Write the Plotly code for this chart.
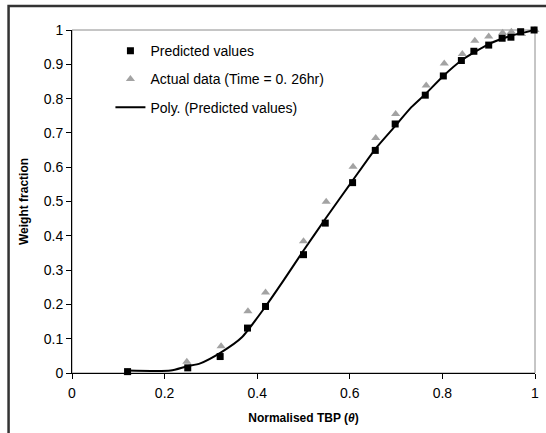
import plotly.graph_objects as go

# Predicted values (squares)
pred_x = [0.12, 0.25, 0.32, 0.379, 0.418, 0.50, 0.547, 0.606, 0.655, 0.698, 0.763, 0.802, 0.841, 0.868, 0.90, 0.929, 0.948, 0.969, 0.998]
pred_y = [0.004, 0.015, 0.048, 0.131, 0.194, 0.345, 0.437, 0.555, 0.649, 0.726, 0.810, 0.866, 0.911, 0.938, 0.956, 0.976, 0.979, 0.995, 1.0]

# Actual data (triangles)
act_x = [0.12, 0.248, 0.322, 0.38, 0.418, 0.50, 0.549, 0.607, 0.656, 0.699, 0.765, 0.804, 0.843, 0.87, 0.90, 0.93, 0.949, 0.971, 1.0]
act_y = [0.002, 0.033, 0.078, 0.18, 0.235, 0.384, 0.499, 0.601, 0.685, 0.755, 0.838, 0.902, 0.930, 0.969, 0.981, 0.992, 0.995, 0.988, 1.0]

# Poly. trendline
poly_x = [0.12, 0.213, 0.247, 0.277, 0.322, 0.367, 0.418, 0.457, 0.50, 0.547, 0.606, 0.655, 0.698, 0.733, 0.763, 0.802, 0.841, 0.90, 0.948, 1.0]
poly_y = [0.007, 0.007, 0.019, 0.028, 0.06, 0.104, 0.194, 0.27, 0.357, 0.449, 0.561, 0.653, 0.72, 0.775, 0.813, 0.866, 0.911, 0.959, 0.983, 1.0]

x_ticks = [0, 0.2, 0.4, 0.6, 0.8, 1]
x_labels = ["0", "0.2", "0.4", "0.6", "0.8", "1"]
y_ticks = [0, 0.1, 0.2, 0.3, 0.4, 0.5, 0.6, 0.7, 0.8, 0.9, 1]
y_labels = ["0", "0.1", "0.2", "0.3", "0.4", "0.5", "0.6", "0.7", "0.8", "0.9", "1"]

FONT = "Liberation Sans, Arial, sans-serif"

fig = go.Figure()
fig.add_trace(go.Scatter(x=poly_x, y=poly_y, mode="lines", name="Poly. (Predicted values)",
                         line=dict(color="black", width=2, shape="spline", smoothing=0.6),
                         legendgroup="c", legendrank=3, cliponaxis=False))
fig.add_trace(go.Scatter(x=act_x, y=act_y, mode="markers", name="Actual data (Time = 0. 26hr)",
                         marker=dict(symbol="triangle-up", color="#a3a3a3", size=8),
                         legendgroup="b", legendrank=2, cliponaxis=False))
fig.add_trace(go.Scatter(x=pred_x, y=pred_y, mode="markers", name="Predicted values",
                         marker=dict(symbol="square", color="black", size=7),
                         legendgroup="a", legendrank=1, cliponaxis=False))

axis_common = dict(showgrid=False, zeroline=False, showline=True, linecolor="black", linewidth=1,
                   ticks="outside", ticklen=5, tickcolor="black",
                   tickfont=dict(family=FONT, size=14, color="black"))

fig.update_layout(
    width=546, height=433,
    margin=dict(l=72, r=7, t=30, b=60),
    paper_bgcolor="white", plot_bgcolor="white",
    font=dict(family=FONT, color="black"),
    showlegend=True,
    legend=dict(x=0.083, y=0.985, xanchor="left", yanchor="top", bgcolor="rgba(0,0,0,0)",
                font=dict(family=FONT, size=14, color="black"),
                traceorder="grouped", tracegroupgap=7),
    xaxis=dict(range=[0, 1], tickvals=x_ticks, ticktext=x_labels, ticklabelstandoff=2,
               title=dict(text="<b>Normalised TBP (<i>θ</i>)</b>", font=dict(family=FONT, size=12), standoff=13),
               **axis_common),
    yaxis=dict(range=[0, 1], tickvals=y_ticks, ticktext=y_labels,
               title=dict(text="<b>Weight fraction</b>", font=dict(family=FONT, size=12), standoff=12),
               **axis_common),
    shapes=[
        dict(type="rect", xref="paper", yref="paper", x0=0, x1=1, y0=0, y1=1,
             line=dict(color="#8c8c8c", width=1), layer="below"),
        dict(type="path", xref="paper", yref="paper",
             path="M -0.137,-0.2 L -0.137,1.07 L 1.03,1.07",
             line=dict(color="#333333", width=2.5), layer="above"),
    ],
)

fig.write_html("out.html", config={"displayModeBar": False},
               post_script="document.body.style.margin='0';document.body.style.overflow='hidden';")
